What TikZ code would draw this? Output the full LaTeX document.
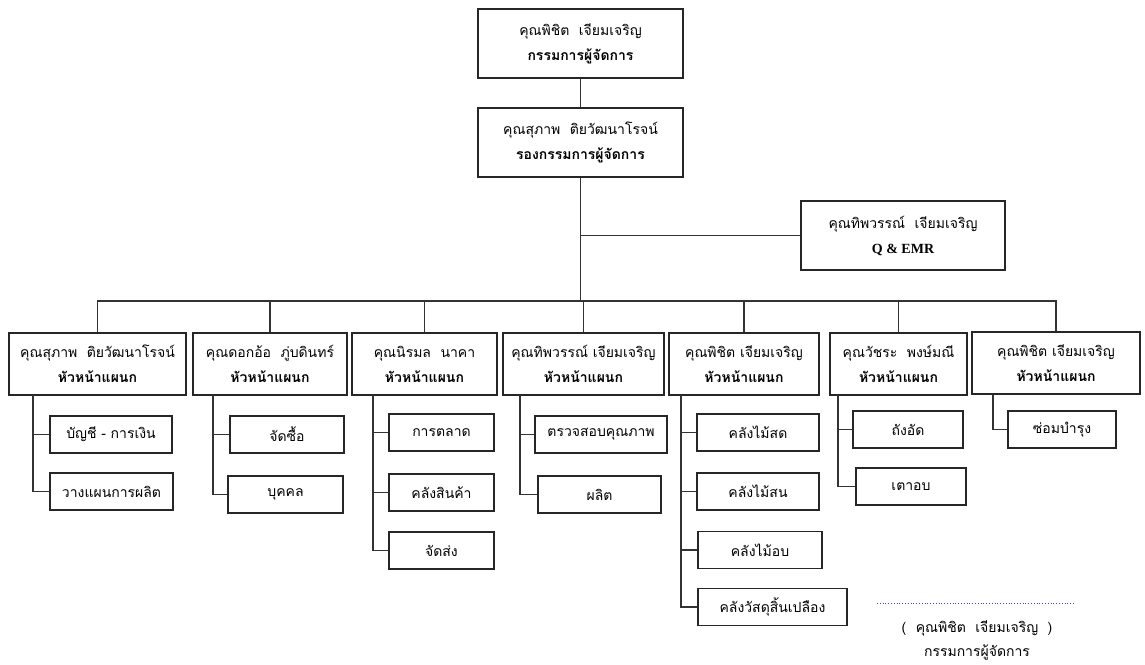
\documentclass[tikz,border=0pt]{standalone}
\usepackage{fontspec}
\setmainfont{Liberation Serif}
\newfontfamily\thaifont[Script=Thai]{Loma}
\usetikzlibrary{calc}

\begin{document}
\begin{tikzpicture}[x=1pt,y=-1pt,
    box/.style={draw=black!85,line width=1.2pt,fill=white,align=center,inner sep=0pt,
      font=\thaifont\fontsize{14}{25}\selectfont},
    subbox/.style={box,minimum height=37},
    link/.style={line width=1.1pt,black!80}]
    \useasboundingbox (0,0) rectangle (1145,664);
    \node[box,minimum width=205,minimum height=69](md) at(580.5,43.5){คุณพิชิต\ \ เจียมเจริญ\\\textbf{กรรมการผู้จัดการ}};
    \node[box,minimum width=205,minimum height=69](vmd) at(580.5,142.5){คุณสุภาพ\ \ ติยวัฒนาโรจน์\\\textbf{รองกรรมการผู้จัดการ}};
    \node[box,minimum width=204,minimum height=69](qe) at(903,235.5){คุณทิพวรรณ์\ \ เจียมเจริญ\\{\rmfamily\bfseries Q \& EMR}};
    \coordinate(bus) at(580.5,301);
    \draw[link](md)--(vmd);
    \draw[link](vmd.south)--(bus);
    \draw[link](qe.west)--(qe.west-|bus);
    % departments
    \node[box,minimum width=177,minimum height=62](d1) at(97.5,364){คุณสุภาพ\ \ ติยวัฒนาโรจน์\\\textbf{หัวหน้าแผนก}};
    \node[box,minimum width=154,minimum height=62](d2) at(270,364){คุณดอกอ้อ\ \ ภู่บดินทร์\\\textbf{หัวหน้าแผนก}};
    \node[box,minimum width=145,minimum height=62](d3) at(424.5,364){คุณนิรมล\ \ นาคา\\\textbf{หัวหน้าแผนก}};
    \node[box,minimum width=161,minimum height=62](d4) at(583.5,364){คุณทิพวรรณ์ เจียมเจริญ\\\textbf{หัวหน้าแผนก}};
    \node[box,minimum width=150,minimum height=62](d5) at(744,364){คุณพิชิต เจียมเจริญ\\\textbf{หัวหน้าแผนก}};
    \node[box,minimum width=137,minimum height=62](d6) at(898.5,364){คุณวัชระ\ \ พงษ์มณี\\\textbf{หัวหน้าแผนก}};
    \node[box,minimum width=168,minimum height=62](d7) at(1056,363){คุณพิชิต เจียมเจริญ\\\textbf{หัวหน้าแผนก}};
    \draw[link](d1.north)|-(bus) (d2.north)|-(bus) (d3.north)|-(bus) (d4.north)|-(bus)
      (d5.north)|-(bus) (d6.north)|-(bus) (d7.north)|-(bus);
    % sections
    \node[subbox,minimum width=122](s11) at(111,434.5){บัญชี - การเงิน};
    \node[subbox,minimum width=123](s12) at(111.5,491.5){วางแผนการผลิต};
    \node[subbox,minimum width=114](s21) at(287,434.5){จัดซื้อ};
    \node[subbox,minimum width=115](s22) at(285.5,494.5){บุคคล};
    \node[subbox,minimum width=105](s31) at(441.5,432.5){การตลาด};
    \node[subbox,minimum width=105](s32) at(441.5,492.5){คลังสินค้า};
    \node[subbox,minimum width=105](s33) at(441.5,550.5){จัดส่ง};
    \node[subbox,minimum width=132](s41) at(601,434.5){ตรวจสอบคุณภาพ};
    \node[subbox,minimum width=123](s42) at(599.5,494.5){ผลิต};
    \node[subbox,minimum width=122](s51) at(758,432.5){คลังไม้สด};
    \node[subbox,minimum width=122](s52) at(758,491.5){คลังไม้สน};
    \node[subbox,minimum width=124](s53) at(760,550){คลังไม้อบ};
    \node[subbox,minimum width=149](s54) at(772.5,607){คลังวัสดุสิ้นเปลือง};
    \node[subbox,minimum width=110](s61) at(908,429.5){ถังอัด};
    \node[subbox,minimum width=110](s62) at(911,486.5){เตาอบ};
    \node[subbox,minimum width=108](s71) at(1062,429.5){ซ่อมบำรุง};
    \coordinate(t1) at(33,395);
    \coordinate(t2) at(213,395);
    \coordinate(t3) at(373,395);
    \coordinate(t4) at(520,395);
    \coordinate(t5) at(681,395);
    \coordinate(t6) at(838,395);
    \coordinate(t7) at(993,395);
    \draw[link](t1)|-(s12.west) (t1|-s11.west)--(s11.west);
    \draw[link](t2)|-(s22.west) (t2|-s21.west)--(s21.west);
    \draw[link](t3)|-(s33.west) (t3|-s32.west)--(s32.west) (t3|-s31.west)--(s31.west);
    \draw[link](t4)|-(s42.west) (t4|-s41.west)--(s41.west);
    \draw[link](t5)|-(s54.west) (t5|-s53.west)--(s53.west) (t5|-s52.west)--(s52.west)
      (t5|-s51.west)--(s51.west);
    \draw[link](t6)|-(s62.west) (t6|-s61.west)--(s61.west);
    \draw[link](t7)|-(s71.west);
    % signature
    \coordinate(sigl) at(877,603);
    \coordinate(sigr) at(1075,603);
    \draw[dotted,line width=0.8pt,blue!45!gray](sigl)--(sigr);
    \node[font=\thaifont\fontsize{14}{16}\selectfont](signame) at(977,628){(\ \ คุณพิชิต\ \ เจียมเจริญ\ \ )};
    \node[font=\thaifont\fontsize{14}{16}\selectfont](sigpos) at(977,652){กรรมการผู้จัดการ};
\end{tikzpicture}
\end{document}
